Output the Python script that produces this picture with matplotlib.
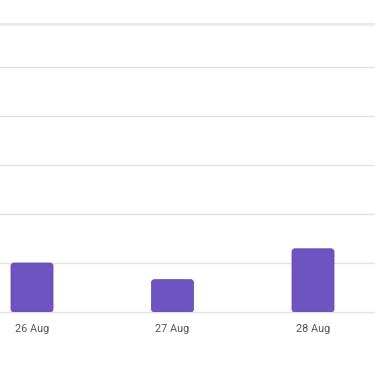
import matplotlib.pyplot as plt
from matplotlib.patches import FancyBboxPatch
from matplotlib.lines import Line2D

days = ['26 Aug', '27 Aug', '28 Aug']
values = [1.0, 0.66, 1.29]
grid_levels = [0, 1, 2, 3, 4, 5]

bar_color = '#6E54C1'
W, H = 375, 366
px_x = 140.5   # pixels per category
px_y = 49.0    # pixels per y unit
zero_px = 312  # zero line, pixels from top

plt.rcParams['font.family'] = ['Roboto', 'DejaVu Sans']
fig = plt.figure(figsize=(W / 100, H / 100), dpi=100)
ax = fig.add_axes([0, (H - zero_px) / H, 1, zero_px / H])

x = list(range(len(days)))
ax.set_xlim(-32 / px_x, -32 / px_x + W / px_x)
ax.set_ylim(0, zero_px / px_y)

for g in grid_levels:
    ax.axhline(g, color='#e2e2e2', lw=1.0, zorder=0, clip_on=False)

bw = 42 / px_x
aspect = px_x / px_y
for xi, v in zip(x, values):
    p = FancyBboxPatch((xi - bw / 2, 0), bw, v,
                       boxstyle='round,pad=0,rounding_size=%f' % (3 / px_x),
                       mutation_aspect=aspect,
                       fc=bar_color, ec='#6550b5', lw=0.6, zorder=2)
    ax.add_patch(p)

ax.set_xticks(x)
ax.set_xticklabels(days, fontsize=7.8, color='#555555')
ax.tick_params(axis='x', length=0, pad=9)
ax.set_yticks([])
for s in ax.spines.values():
    s.set_visible(False)

# header separator at the top
fig.add_artist(Line2D([0, 1], [1 - 23.5 / H, 1 - 23.5 / H], color='#e4e4e4', lw=1.2))
fig.add_artist(Line2D([0, 1], [1 - 24.8 / H, 1 - 24.8 / H], color='#f3f3f3', lw=1.0))

fig.savefig('out.png', dpi=100)
